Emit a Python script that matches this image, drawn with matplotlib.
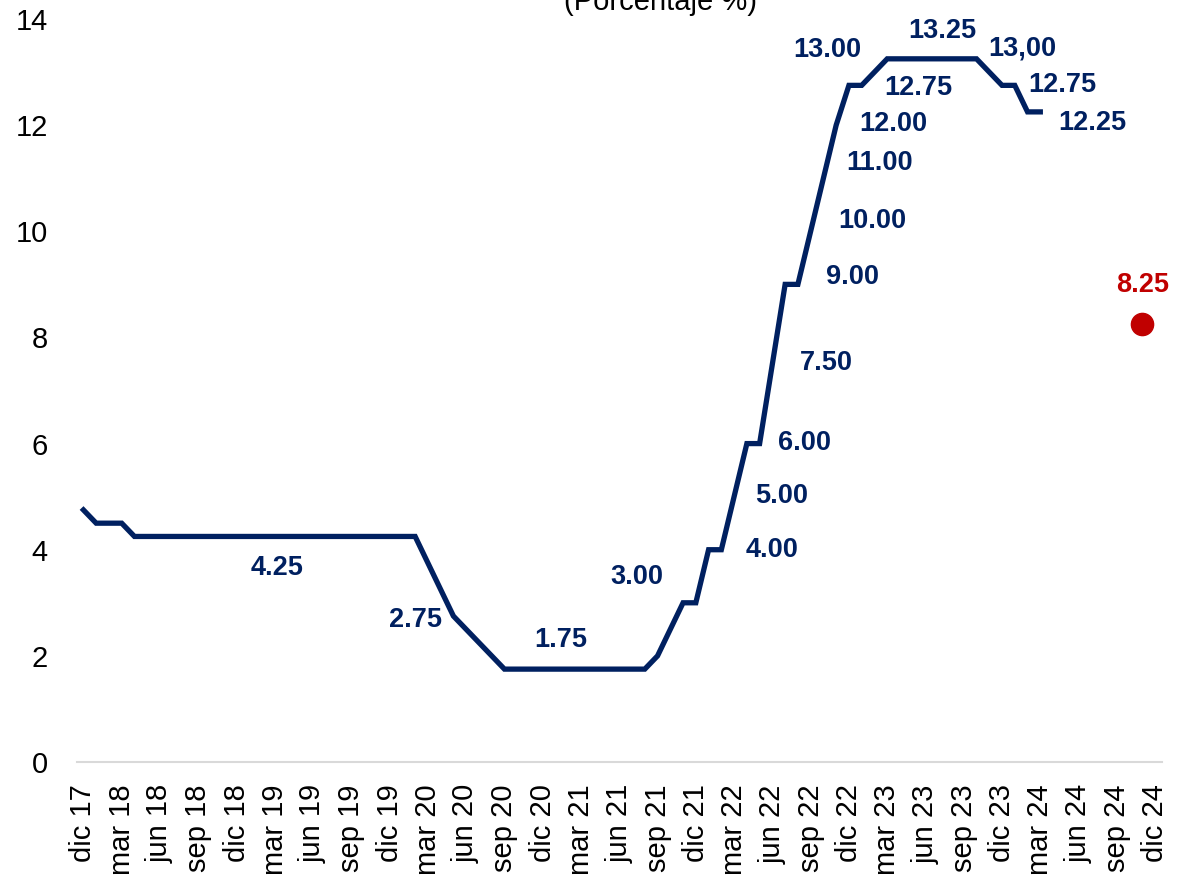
import matplotlib
matplotlib.use("Agg")
import matplotlib.pyplot as plt

plt.rcParams['font.family'] = ['Liberation Sans', 'DejaVu Sans']

# Monthly policy rate, dic 17 .. mar 24
rate = [4.75, 4.50, 4.50, 4.50,
        4.25, 4.25, 4.25, 4.25, 4.25, 4.25, 4.25, 4.25, 4.25, 4.25, 4.25, 4.25,
        4.25, 4.25, 4.25, 4.25, 4.25, 4.25, 4.25, 4.25, 4.25, 4.25, 4.25,
        3.75, 3.25, 2.75, 2.50, 2.25, 2.00,
        1.75, 1.75, 1.75, 1.75, 1.75, 1.75, 1.75, 1.75, 1.75, 1.75, 1.75, 1.75,
        2.00, 2.50, 3.00, 3.00, 4.00, 4.00, 5.00, 6.00, 6.00, 7.50, 9.00, 9.00,
        10.00, 11.00, 12.00, 12.75, 12.75, 13.00,
        13.25, 13.25, 13.25, 13.25, 13.25, 13.25, 13.25, 13.25,
        13.00, 12.75, 12.75, 12.25, 12.25]

# Expected value (nov 24)
forecast_month = 83
forecast_value = 8.25

tick_labels = ["dic 17", "mar 18", "jun 18", "sep 18", "dic 18", "mar 19", "jun 19",
               "sep 19", "dic 19", "mar 20", "jun 20", "sep 20", "dic 20", "mar 21",
               "jun 21", "sep 21", "dic 21", "mar 22", "jun 22", "sep 22", "dic 22",
               "mar 23", "jun 23", "sep 23", "dic 23", "mar 24", "jun 24", "sep 24",
               "dic 24"]

label_texts = ["4.25", "2.75", "1.75", "3.00", "4.00", "5.00", "6.00", "7.50", "9.00",
               "10.00", "11.00", "12.00", "13.00", "12.75", "13.25", "13,00", "12.75",
               "12.25"]
label_pos = [(15.2, 3.66), (26.0, 2.68), (37.4, 2.30), (43.4, 3.49), (54.0, 4.00),
             (54.7, 5.01), (56.5, 6.01), (58.2, 7.52), (60.3, 9.14), (61.8, 10.19),
             (62.4, 11.29), (63.5, 12.02), (58.3, 13.42), (65.4, 12.70), (67.3, 13.77),
             (73.6, 13.45), (76.7, 12.76), (79.1, 12.04)]

navy = "#002060"
red = "#C00000"

fig = plt.figure(figsize=(11.78, 8.93), dpi=100)
ax = fig.add_axes([0.0654, 0.1467, 0.9206, 0.832])

months = list(range(len(rate)))
ax.plot(months, rate, color=navy, lw=3.8, solid_joinstyle='miter',
        solid_capstyle='projecting')
ax.plot([forecast_month], [forecast_value], 'o', color=red, markersize=16)

for t, (x, y) in zip(label_texts, label_pos):
    ax.text(x, y, t, color=navy, fontsize=19.5, fontweight='bold', ha='center', va='center')
ax.text(forecast_month, 8.99, "8.25", color=red, fontsize=19.5, fontweight='bold',
        ha='center', va='center')

ax.set_xlim(-0.5, 84.5)
ax.set_ylim(0, 14)
ax.set_yticks([0, 2, 4, 6, 8, 10, 12, 14])
ax.set_xticks(range(0, 85, 3))
ax.set_xticklabels(tick_labels, rotation=90, fontsize=21)
ax.tick_params(axis='y', length=0, pad=21, labelsize=21)
ax.tick_params(axis='x', length=0, pad=16)
for s in ['top', 'right', 'left']:
    ax.spines[s].set_visible(False)
ax.spines['bottom'].set_color('#d9d9d9')
ax.spines['bottom'].set_linewidth(1.5)

fig.text(660 / 1178, 1 - 10 / 893, "(Porcentaje %)", ha='center', va='baseline', fontsize=21)

fig.savefig("out.png", dpi=100)
